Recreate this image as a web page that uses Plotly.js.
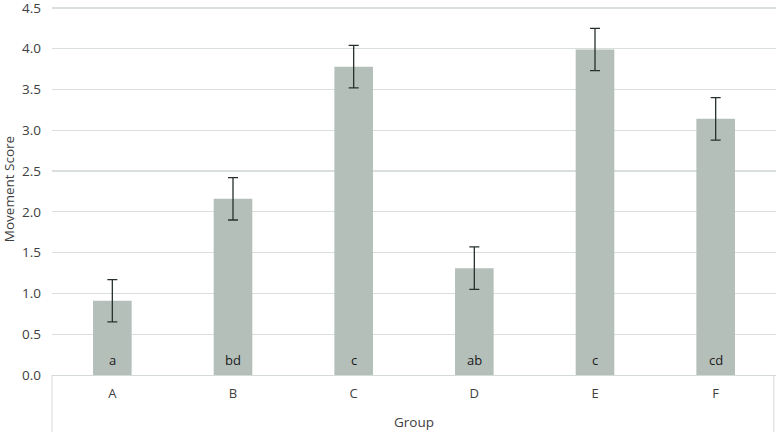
<!DOCTYPE html>
<html>
<head>
<meta charset="utf-8">
<script src="https://cdn.plot.ly/plotly-3.0.1.min.js"></script>
<style>html,body{margin:0;padding:0;background:#fff;}#chart{width:778px;height:432px;}</style>
</head>
<body>
<div id="chart"></div>
<script>
const groups = ["A", "B", "C", "D", "E", "F"];
const scores = [0.91, 2.16, 3.78, 1.31, 3.99, 3.14];
const errors = [0.26, 0.26, 0.26, 0.26, 0.26, 0.26];
const letters = ["a", "bd", "c", "ab", "c", "cd"];
const letterY = 0.18;
const yTicks = [0, 0.5, 1, 1.5, 2, 2.5, 3, 3.5, 4, 4.5];

const textColor = "#404040";
const font = "Open Sans, Liberation Sans, sans-serif";

const trace = {
  type: "bar",
  x: groups,
  y: scores,
  marker: {color: "#b5bfba"},
  width: 0.32,
  error_y: {type: "data", array: errors, visible: true, color: "#26302c", thickness: 1.3, width: 5},
  hoverinfo: "skip"
};

const annotations = groups.map((g, i) => ({
  x: g, y: letterY, xref: "x", yref: "y", text: letters[i], showarrow: false,
  font: {family: font, size: 13, color: "#1a1a1a"}
}));

const layout = {
  width: 778, height: 432,
  margin: {l: 52, r: 2, t: 3, b: 57},
  paper_bgcolor: "#fff", plot_bgcolor: "#fff",
  font: {family: font, size: 13, color: textColor},
  showlegend: false,
  xaxis: {
    type: "category",
    showline: true, linecolor: "#d4dad7", linewidth: 1,
    showgrid: false, ticks: "", ticklen: 0,
    ticklabelstandoff: 6,
    tickfont: {family: font, size: 13, color: textColor},
    title: {text: "Group", font: {family: font, size: 13.5, color: textColor}, standoff: 16},
    fixedrange: true
  },
  yaxis: {
    range: [0, 4.56], tickmode: "array", tickvals: yTicks,
    ticktext: yTicks.map(v => v.toFixed(1)),
    ticklabeloverflow: "allow",
    showgrid: true, gridcolor: "#d9dfdc", gridwidth: 1.3,
    zeroline: false, showline: false, ticks: "",
    ticklabelstandoff: 10,
    tickfont: {family: font, size: 13.5, color: textColor},
    title: {text: "Movement Score", font: {family: font, size: 13.5, color: textColor}, standoff: 6},
    fixedrange: true
  },
  shapes: [
    {type: "line", xref: "paper", yref: "paper", x0: 0, x1: 0, y0: 0, y1: -0.2, line: {color: "#d4dad7", width: 1}},
    {type: "line", xref: "paper", yref: "paper", x0: 0.997, x1: 0.997, y0: 0, y1: -0.2, line: {color: "#d4dad7", width: 1}}
  ],
  annotations: annotations
};

Plotly.newPlot("chart", [trace], layout, {displayModeBar: false, staticPlot: true});
</script>
</body>
</html>
